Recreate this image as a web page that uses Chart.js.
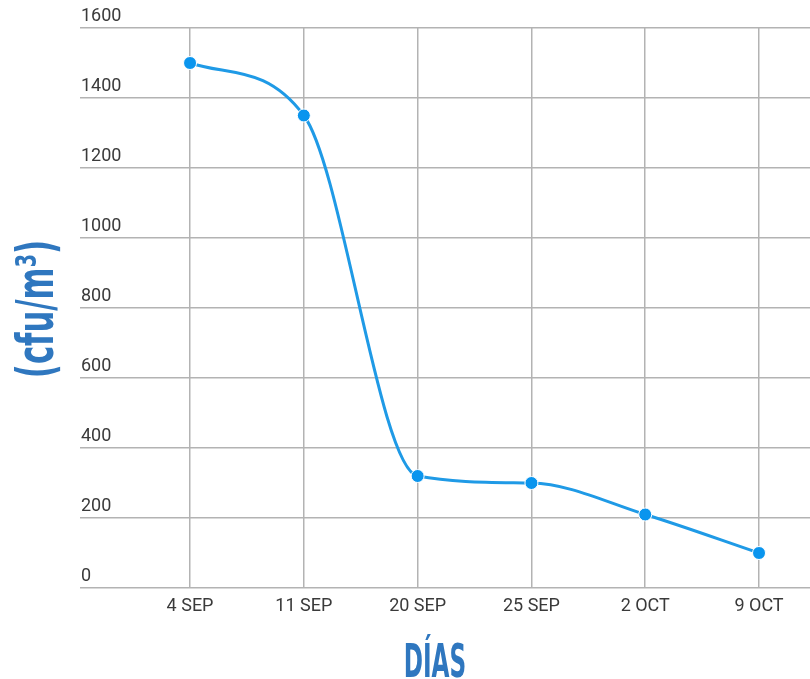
<!DOCTYPE html>
<html>
<head>
<meta charset="utf-8">
<script src="https://cdn.jsdelivr.net/npm/chart.js@4/dist/chart.umd.min.js"></script>
<style>
  html, body { margin: 0; padding: 0; background: #ffffff; }
  #wrap { width: 810px; height: 679px; }
</style>
</head>
<body>
<div id="wrap"><canvas id="chart" width="810" height="679"></canvas></div>
<script>
// Sampling dates and measured airborne counts
const categories = ['4 SEP', '11 SEP', '20 SEP', '25 SEP', '2 OCT', '9 OCT'];
const cfuValues = [1500, 1350, 320, 300, 210, 100];
const yMax = 1600;
const yStep = 200;
const xTitle = 'DÍAS';
const yTitle = '(cfu/m³)';

const titleBlue = '#2f77bf';
const gridGray = '#b3b3b3';

// Axis titles in a condensed display style
const axisTitles = {
  id: 'axisTitles',
  afterDraw(chart) {
    const ctx = chart.ctx;
    ctx.save();
    ctx.fillStyle = titleBlue;
    ctx.textAlign = 'center';
    ctx.textBaseline = 'alphabetic';

    ctx.font = 'bold 46px "Liberation Sans Narrow", "DejaVu Sans Condensed", sans-serif';
    ctx.save();
    ctx.translate(435, 677);
    ctx.scale(0.56, 1);
    ctx.fillText(xTitle, 0, 0);
    ctx.restore();

    ctx.font = 'bold 51px "Liberation Sans Narrow", "DejaVu Sans Condensed", sans-serif';
    ctx.save();
    ctx.translate(53, 309);
    ctx.rotate(-Math.PI / 2);
    ctx.scale(0.67, 1);
    ctx.fillText(yTitle, 0, 0);
    ctx.restore();
    ctx.restore();
  }
};

new Chart(document.getElementById('chart'), {
  type: 'line',
  data: {
    datasets: [{
      data: cfuValues.map((v, i) => ({ x: i, y: v })),
      borderColor: '#1f9ae6',
      borderWidth: 3,
      backgroundColor: '#0a95ee',
      pointBackgroundColor: '#0a95ee',
      pointBorderColor: '#ffffff',
      pointBorderWidth: 1,
      pointRadius: 6.5,
      cubicInterpolationMode: 'monotone',
      fill: false
    }]
  },
  options: {
    responsive: false,
    animation: false,
    layout: { autoPadding: false, padding: { left: 80, right: 0, top: 28, bottom: 0 } },
    plugins: {
      legend: { display: false },
      tooltip: { enabled: false }
    },
    scales: {
      x: {
        type: 'linear',
        min: -0.967,
        max: 5.448,
        afterBuildTicks(scale) {
          scale.ticks = categories.map((_, i) => ({ value: i }));
        },
        afterFit(scale) {
          scale.height = 91;
          scale.paddingLeft = 0;
          scale.paddingRight = 0;
        },
        border: { display: false },
        grid: { color: gridGray, lineWidth: 1.5, drawTicks: false },
        ticks: {
          autoSkip: false,
          maxRotation: 0,
          padding: 8,
          color: '#3a3a3a',
          font: { family: 'Roboto', size: 18 },
          callback: (v) => categories[v] ?? ''
        }
      },
      y: {
        min: 0,
        max: yMax,
        afterFit(scale) { scale.width = 0; },
        border: { display: false },
        grid: { color: gridGray, lineWidth: 1.5, drawTicks: false },
        ticks: {
          stepSize: yStep,
          mirror: true,
          padding: 1,
          labelOffset: -12,
          color: '#3a3a3a',
          font: { family: 'Roboto', size: 18 },
          callback: (v) => String(v)
        }
      }
    }
  },
  plugins: [axisTitles]
});
</script>
</body>
</html>
